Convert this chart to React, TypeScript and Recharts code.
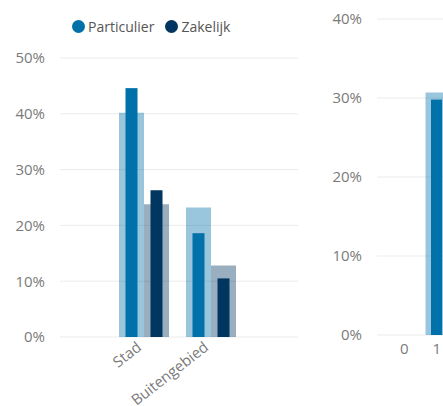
import React from "react";
import {
  BarChart,
  Bar,
  XAxis,
  YAxis,
  CartesianGrid,
} from "recharts";

// Left chart: area type
const areaTypes = ["Stad", "Buitengebied"];
const particulierRef = [40.2, 23.2];
const particulier = [44.6, 18.6];
const zakelijkRef = [23.8, 12.8];
const zakelijk = [26.3, 10.5];
const leftTicks = [0, 10, 20, 30, 40, 50];

// Right chart (cut off at the window edge)
const counts = ["0", "1"];
const countRef = [0, 30.7];
const countValues = [0, 29.8];
const rightTicks = [0, 10, 20, 30, 40];

const seriesNames = ["Particulier", "Zakelijk"];
const PART = "#0071a9";
const ZAK = "#00365f";
const TICK = { fill: "#7a7a7a", fontSize: 15 };

const leftData = areaTypes.map((name, i) => ({
  name,
  particulierRef: particulierRef[i],
  particulier: particulier[i],
  zakelijkRef: zakelijkRef[i],
  zakelijk: zakelijk[i],
}));

const rightData = counts.map((name, i) => ({
  name,
  countRef: countRef[i],
  countValue: countValues[i],
}));

// draws a thinner bar centered in the slot the library computed
const narrow = (w: number) => (props: any) => {
  const { x, y, width, height, fill } = props;
  if (!height) return <g />;
  return <rect x={x + (width - w) / 2} y={y} width={w} height={height} fill={fill} />;
};

// rotated category label, anchored at its end just left of the tick
const SlantTick = (props: any) => {
  const { x, y, payload } = props;
  return (
    <g transform={`translate(${x - 1},${y + 4})`}>
      <text transform="rotate(-38)" textAnchor="end" fill="#7a7a7a" fontSize={15}>
        {payload.value}
      </text>
    </g>
  );
};

const pct = (v: number) => `${v}%`;

export default function App() {
  return (
    <div
      style={{
        position: "fixed",
        left: 0,
        top: 0,
        width: 443,
        height: 406,
        overflow: "hidden",
        background: "#fff",
        fontFamily: "'Open Sans', sans-serif",
      }}
    >
      <div
        style={{
          position: "absolute",
          top: 18,
          left: 72,
          height: 16,
          display: "flex",
          alignItems: "center",
          fontSize: 14,
          color: "#555",
        }}
      >
        {seriesNames.map((s, i) => (
          <div key={s} style={{ display: "flex", alignItems: "center", marginRight: 11 }}>
            <span
              style={{
                width: 13,
                height: 13,
                borderRadius: "50%",
                background: i === 0 ? PART : ZAK,
                marginRight: 3,
              }}
            />
            {s}
          </div>
        ))}
      </div>

      <div style={{ position: "absolute", left: 0, top: 0 }}>
        <BarChart
          width={300}
          height={406}
          data={leftData}
          margin={{ top: 58, right: 2, bottom: 0, left: 0 }}
          barGap={0}
        >
          <CartesianGrid vertical={false} stroke="#ebebeb" xAxisId="back" />
          <XAxis
            xAxisId="back"
            dataKey="name"
            height={69}
            padding={{ left: 50, right: 54 }}
            axisLine={false}
            tickLine={false}
            interval={0}
            tick={<SlantTick />}
          />
          <XAxis xAxisId="front" dataKey="name" hide padding={{ left: 50, right: 54 }} />
          <YAxis
            width={60}
            domain={[0, 50]}
            ticks={leftTicks}
            tickFormatter={pct}
            axisLine={false}
            tickLine={false}
            tickMargin={9}
            tick={TICK}
          />
          <Bar xAxisId="back" dataKey="particulierRef" barSize={25} fill={PART} fillOpacity={0.4} isAnimationActive={false} />
          <Bar xAxisId="back" dataKey="zakelijkRef" barSize={25} fill={ZAK} fillOpacity={0.4} isAnimationActive={false} />
          <Bar xAxisId="front" dataKey="particulier" barSize={25} fill={PART} shape={narrow(12)} isAnimationActive={false} />
          <Bar xAxisId="front" dataKey="zakelijk" barSize={25} fill={ZAK} shape={narrow(12)} isAnimationActive={false} />
        </BarChart>
      </div>

      <div style={{ position: "absolute", left: 320, top: 0 }}>
        <BarChart
          width={200}
          height={406}
          data={rightData}
          margin={{ top: 19, right: 0, bottom: 41, left: 0 }}
          barGap={0}
        >
          <CartesianGrid vertical={false} stroke="#ebebeb" xAxisId="back" />
          <XAxis
            xAxisId="back"
            dataKey="name"
            height={30}
            padding={{ left: 11, right: 67 }}
            axisLine={false}
            tickLine={false}
            interval={0}
            tick={TICK}
          />
          <XAxis xAxisId="front" dataKey="name" hide padding={{ left: 11, right: 67 }} />
          <YAxis
            width={57}
            domain={[0, 40]}
            ticks={rightTicks}
            tickFormatter={pct}
            axisLine={false}
            tickLine={false}
            tickMargin={9}
            tick={TICK}
          />
          <Bar xAxisId="back" dataKey="countRef" barSize={22} fill={PART} fillOpacity={0.4} isAnimationActive={false} />
          <Bar xAxisId="front" dataKey="countValue" barSize={22} fill={PART} shape={narrow(11)} isAnimationActive={false} />
        </BarChart>
      </div>
    </div>
  );
}
